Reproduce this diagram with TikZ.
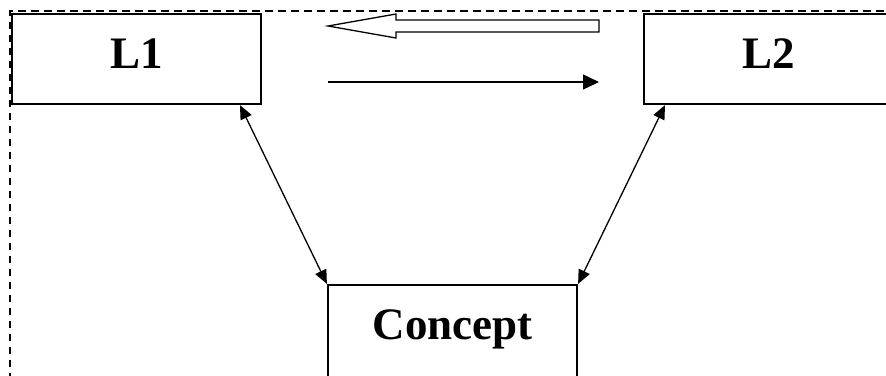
\documentclass[tikz,border=0pt]{standalone}
\usepackage{fontspec}
\setmainfont{Liberation Serif}
\usetikzlibrary{arrows.meta}
\begin{document}
\begin{tikzpicture}[x=1pt,y=-1pt,
  box/.style={draw=black,line width=2.2pt,fill=white,minimum width=249pt,inner sep=0pt,
    font=\fontsize{45}{50}\selectfont\bfseries,text height=31pt,text depth=12pt},
  link/.style={line width=1.3pt,{Triangle[length=14pt,width=12pt]}-{Triangle[length=14pt,width=12pt]}},
  frame/.style={line width=1.3pt,dash pattern=on 7.5pt off 5.5pt}]
\useasboundingbox (0,0) rectangle (886,375);
\clip (0,0) rectangle (886,375);
\draw[frame] (10,380) -- (10,11) -- (890,11);
\node[box,minimum height=90pt] (L1) at (136.5,59) {L1};
\node[box,minimum height=90pt] (L2) at (768.5,59) {L2};
\node[box,minimum height=94pt,text depth=16pt] (C) at (452.5,332) {Concept};
\draw[link] ([xshift=103.5pt]L1.south) -- (C.north west);
\draw[link] ([xshift=-103.5pt]L2.south) -- (C.north east);
\coordinate (a1) at (328,82);
\coordinate (a2) at (599,82);
\draw[line width=1.3pt,-{Triangle[length=16pt,width=15pt]}] (a1) -- (a2);
\draw[line width=1.3pt,fill=white] (328,26) -- (396,14) -- (396,20) -- (599,20) -- (599,32) -- (396,32) -- (396,38) -- cycle;
\end{tikzpicture}
\end{document}
